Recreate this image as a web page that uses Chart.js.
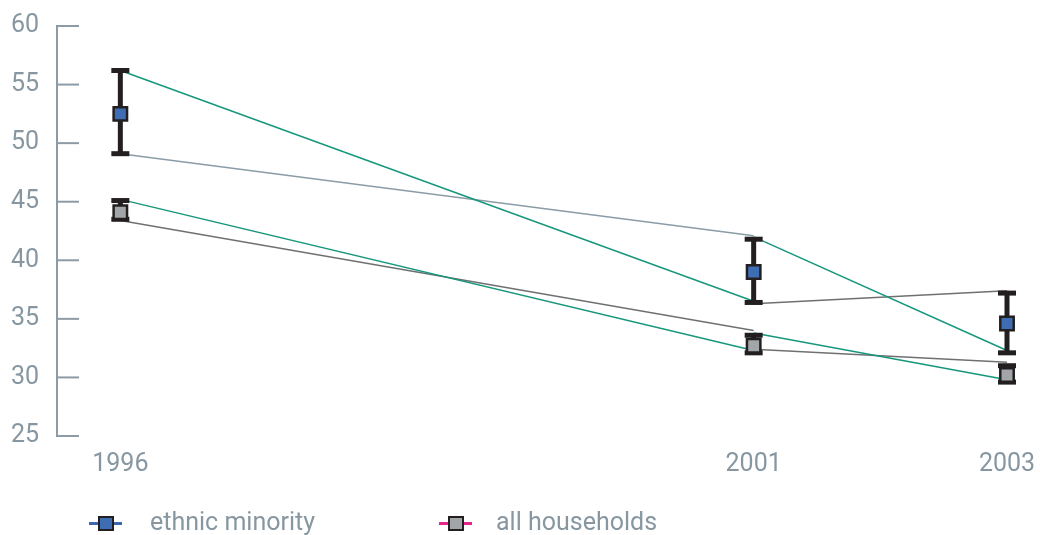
<!DOCTYPE html>
<html>
<head>
<meta charset="utf-8">
<script src="https://cdn.jsdelivr.net/npm/chart.js@4.4.0/dist/chart.umd.min.js"></script>
<style>
html, body { margin: 0; padding: 0; background: #fff; }
#wrap { position: relative; width: 1040px; height: 535px; }
.leg { position: absolute; top: 506px; height: 32px; font: 400 25px Roboto, "Liberation Sans", sans-serif; color: #8797a1; line-height: 32px; white-space: nowrap; }
.leg .ln { position: absolute; top: 16px; width: 33px; height: 3px; }
.leg .sq { position: absolute; top: 10px; width: 12px; height: 11px; border: 2px solid #231f20; }
.leg .tx { position: absolute; top: 0; }
</style>
</head>
<body>
<div id="wrap">
  <canvas id="canvas" width="1040" height="535"></canvas>
  <div class="leg" style="left:89px">
    <span class="ln" style="left:0;background:#3d68b0"></span>
    <span class="sq" style="left:9px;background:#3f6db3"></span>
    <span class="tx" style="left:61px">ethnic minority</span>
  </div>
  <div class="leg" style="left:439px">
    <span class="ln" style="left:0;background:#e8248a"></span>
    <span class="sq" style="left:9px;background:#a3a6a9"></span>
    <span class="tx" style="left:57px">all households</span>
  </div>
</div>
<script>
var years = [1996, 2001, 2003];
var yTicks = [25, 30, 35, 40, 45, 50, 55, 60];

var ethnicMean = [52.5, 39.0, 34.6];
var ethnicHigh = [56.2, 41.8, 37.2];
var ethnicLow = [49.1, 36.4, 32.1];

var allMean = [44.1, 32.7, 30.2];
var allHigh = [45.1, 33.6, 31.0];
var allLow = [43.5, 32.1, 29.6];

// connecting lines between years, [start, end]
var ethnicDown = [[56.2, 36.5], [42.0, 32.3]];
var ethnicUp = [[49.1, 42.1], [36.3, 37.4]];
var allDown = [[45.2, 32.3], [33.8, 29.8]];
var allUp = [[43.4, 34.0], [32.4, 31.3]];

var teal = '#16977c';
var greyBlue = '#8b9ca6';
var greyDark = '#6f7072';
var ink = '#231f20';
var textCol = '#8797a1';
var axisCol = '#8c9ba5';

var datasets = [];

function segs(pairs, colors, order) {
    pairs.forEach(function (p, i) {
        datasets.push({
            data: [{x: years[i], y: p[0]}, {x: years[i + 1], y: p[1]}],
            borderColor: colors[i],
            borderWidth: 1.5,
            pointRadius: 0,
            order: order
        });
    });
}

function bars(high, low) {
    years.forEach(function (yr, i) {
        datasets.push({
            data: [{x: yr, y: high[i]}, {x: yr, y: low[i]}],
            borderColor: ink,
            borderWidth: 5,
            pointStyle: 'line',
            pointRadius: 9,
            pointBorderWidth: 5,
            pointBorderColor: ink,
            order: 1
        });
    });
}

function marks(vals, fill) {
    datasets.push({
        data: years.map(function (yr, i) { return {x: yr, y: vals[i]}; }),
        showLine: false,
        pointStyle: 'rect',
        pointRadius: 9.5,
        pointBackgroundColor: fill,
        pointBorderColor: ink,
        pointBorderWidth: 2.5,
        order: 0
    });
}

segs(ethnicDown, [teal, teal], 2);
segs(ethnicUp, [greyBlue, greyDark], 2);
segs(allDown, [teal, teal], 2);
segs(allUp, [greyDark, greyDark], 2);
bars(ethnicHigh, ethnicLow);
bars(allHigh, allLow);
marks(ethnicMean, '#3f6db3');
marks(allMean, '#a3a6a9');

var tickMarks = {
    id: 'tickMarks',
    beforeDatasetsDraw: function (chart) {
        var ys = chart.scales.y;
        var ctx = chart.ctx;
        var left = chart.chartArea.left;
        ctx.save();
        ctx.strokeStyle = axisCol;
        ctx.lineWidth = 2;
        ys.ticks.forEach(function (t) {
            var p = ys.getPixelForValue(t.value);
            ctx.beginPath();
            ctx.moveTo(left, p);
            ctx.lineTo(left + 22, p);
            ctx.stroke();
        });
        ctx.restore();
    }
};

var labelFont = {family: 'Roboto, "Liberation Sans", sans-serif', size: 25, weight: '400'};

new Chart(document.getElementById('canvas').getContext('2d'), {
    type: 'line',
    data: {datasets: datasets},
    plugins: [tickMarks],
    options: {
        responsive: false,
        animation: false,
        events: [],
        layout: {padding: {top: 26, right: 12, bottom: 0, left: 0}},
        plugins: {legend: {display: false}, tooltip: {enabled: false}},
        scales: {
            x: {
                type: 'linear',
                min: 1995.5,
                max: 2003.15,
                afterBuildTicks: function (axis) {
                    axis.ticks = years.map(function (v) { return {value: v}; });
                },
                afterFit: function (axis) {
                    axis.height = 99;
                    axis.paddingLeft = 0;
                    axis.paddingRight = 0;
                },
                grid: {display: false, drawTicks: false},
                border: {display: false},
                ticks: {
                    padding: 14,
                    color: textCol,
                    font: labelFont,
                    maxRotation: 0,
                    callback: function (v) { return String(v); }
                }
            },
            y: {
                type: 'linear',
                min: 25,
                max: 60,
                afterBuildTicks: function (axis) {
                    axis.ticks = yTicks.map(function (v) { return {value: v}; });
                },
                afterFit: function (axis) {
                    axis.width = 57;
                    axis.paddingTop = 0;
                    axis.paddingBottom = 0;
                },
                grid: {display: false, drawTicks: false},
                border: {display: true, color: axisCol, width: 2},
                ticks: {
                    padding: 18,
                    color: textCol,
                    font: labelFont
                }
            }
        }
    }
});
</script>
</body>
</html>
